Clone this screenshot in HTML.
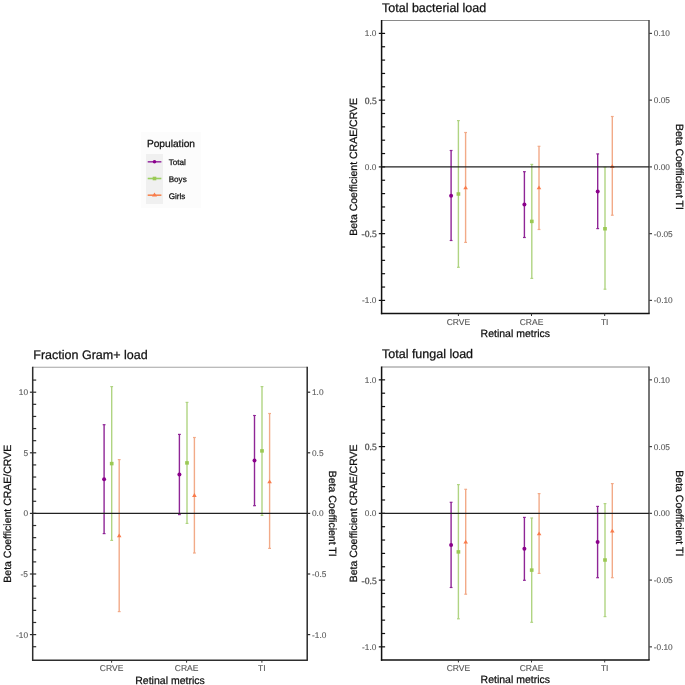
<!DOCTYPE html><html><head><meta charset="utf-8"><style>html,body{margin:0;padding:0;background:#fff;width:685px;height:685px;overflow:hidden}svg{display:block;text-rendering:geometricPrecision;will-change:transform}</style></head><body>
<svg width="685" height="685" viewBox="0 0 685 685">
<rect width="685" height="685" fill="#fff"/>
<text x="382" y="12.3" font-size="12.5" fill="#111" stroke="#111" stroke-width="0.25" text-anchor="start" font-family='"Liberation Sans", sans-serif'>Total bacterial load</text>
<line x1="381.6" y1="20.5" x2="649.0" y2="20.5" stroke="#8a8a8a" stroke-width="1.1"/>
<line x1="381.6" y1="287.05" x2="385.1" y2="287.05" stroke="#111" stroke-width="1.2"/>
<line x1="381.6" y1="273.70000000000005" x2="385.1" y2="273.70000000000005" stroke="#111" stroke-width="1.2"/>
<line x1="381.6" y1="260.35" x2="385.1" y2="260.35" stroke="#111" stroke-width="1.2"/>
<line x1="381.6" y1="247.0" x2="385.1" y2="247.0" stroke="#111" stroke-width="1.2"/>
<line x1="381.6" y1="220.3" x2="385.1" y2="220.3" stroke="#111" stroke-width="1.2"/>
<line x1="381.6" y1="206.95" x2="385.1" y2="206.95" stroke="#111" stroke-width="1.2"/>
<line x1="381.6" y1="193.60000000000002" x2="385.1" y2="193.60000000000002" stroke="#111" stroke-width="1.2"/>
<line x1="381.6" y1="180.25" x2="385.1" y2="180.25" stroke="#111" stroke-width="1.2"/>
<line x1="381.6" y1="153.55" x2="385.1" y2="153.55" stroke="#111" stroke-width="1.2"/>
<line x1="381.6" y1="140.2" x2="385.1" y2="140.2" stroke="#111" stroke-width="1.2"/>
<line x1="381.6" y1="126.85000000000001" x2="385.1" y2="126.85000000000001" stroke="#111" stroke-width="1.2"/>
<line x1="381.6" y1="113.5" x2="385.1" y2="113.5" stroke="#111" stroke-width="1.2"/>
<line x1="381.6" y1="86.80000000000001" x2="385.1" y2="86.80000000000001" stroke="#111" stroke-width="1.2"/>
<line x1="381.6" y1="73.45000000000002" x2="385.1" y2="73.45000000000002" stroke="#111" stroke-width="1.2"/>
<line x1="381.6" y1="60.099999999999994" x2="385.1" y2="60.099999999999994" stroke="#111" stroke-width="1.2"/>
<line x1="381.6" y1="46.75" x2="385.1" y2="46.75" stroke="#111" stroke-width="1.2"/>
<line x1="378.8" y1="33.400000000000006" x2="385.1" y2="33.400000000000006" stroke="#111" stroke-width="1.2"/>
<text x="376.40000000000003" y="36.400000000000006" font-size="8.3" fill="#5a5a5a" stroke="#5a5a5a" stroke-width="0.12" text-anchor="end" font-family='"Liberation Sans", sans-serif'>1.0</text>
<line x1="378.8" y1="100.15" x2="385.1" y2="100.15" stroke="#111" stroke-width="1.2"/>
<text x="376.70000000000005" y="103.55000000000001" font-size="9.6" fill="#555" stroke="#555" stroke-width="0.3" text-anchor="end" font-family='"Liberation Serif", serif'>0.5</text>
<line x1="378.8" y1="166.9" x2="385.1" y2="166.9" stroke="#111" stroke-width="1.2"/>
<text x="376.40000000000003" y="169.9" font-size="8.3" fill="#5a5a5a" stroke="#5a5a5a" stroke-width="0.12" text-anchor="end" font-family='"Liberation Sans", sans-serif'>0.0</text>
<line x1="378.8" y1="233.65" x2="385.1" y2="233.65" stroke="#111" stroke-width="1.2"/>
<text x="376.70000000000005" y="237.05" font-size="9.6" fill="#555" stroke="#555" stroke-width="0.3" text-anchor="end" font-family='"Liberation Serif", serif'>-0.5</text>
<line x1="378.8" y1="300.4" x2="385.1" y2="300.4" stroke="#111" stroke-width="1.2"/>
<text x="376.40000000000003" y="303.4" font-size="8.3" fill="#5a5a5a" stroke="#5a5a5a" stroke-width="0.12" text-anchor="end" font-family='"Liberation Sans", sans-serif'>-1.0</text>
<line x1="649.0" y1="33.400000000000006" x2="652.0" y2="33.400000000000006" stroke="#444" stroke-width="1.2"/>
<text x="653.8" y="36.400000000000006" font-size="8.3" fill="#5a5a5a" stroke="#5a5a5a" stroke-width="0.12" text-anchor="start" font-family='"Liberation Sans", sans-serif'>0.10</text>
<line x1="649.0" y1="100.15" x2="652.0" y2="100.15" stroke="#444" stroke-width="1.2"/>
<text x="653.8" y="103.15" font-size="8.3" fill="#5a5a5a" stroke="#5a5a5a" stroke-width="0.12" text-anchor="start" font-family='"Liberation Sans", sans-serif'>0.05</text>
<line x1="649.0" y1="166.9" x2="652.0" y2="166.9" stroke="#444" stroke-width="1.2"/>
<text x="653.8" y="169.9" font-size="8.3" fill="#5a5a5a" stroke="#5a5a5a" stroke-width="0.12" text-anchor="start" font-family='"Liberation Sans", sans-serif'>0.00</text>
<line x1="649.0" y1="233.65" x2="652.0" y2="233.65" stroke="#444" stroke-width="1.2"/>
<text x="653.8" y="236.65" font-size="8.3" fill="#5a5a5a" stroke="#5a5a5a" stroke-width="0.12" text-anchor="start" font-family='"Liberation Sans", sans-serif'>-0.05</text>
<line x1="649.0" y1="300.4" x2="652.0" y2="300.4" stroke="#444" stroke-width="1.2"/>
<text x="653.8" y="303.4" font-size="8.3" fill="#5a5a5a" stroke="#5a5a5a" stroke-width="0.12" text-anchor="start" font-family='"Liberation Sans", sans-serif'>-0.10</text>
<line x1="381.6" y1="20.0" x2="381.6" y2="314.3" stroke="#111" stroke-width="1.5"/>
<line x1="649.0" y1="20.0" x2="649.0" y2="313.5" stroke="#484848" stroke-width="1.5"/>
<line x1="380.90000000000003" y1="313.5" x2="649.7" y2="313.5" stroke="#111" stroke-width="1.6"/>
<line x1="458.4" y1="313.5" x2="458.4" y2="316.0" stroke="#333" stroke-width="1"/>
<text x="458.4" y="324.5" font-size="8.5" fill="#555" stroke="#555" stroke-width="0.12" text-anchor="middle" font-family='"Liberation Sans", sans-serif'>CRVE</text>
<line x1="531.5" y1="313.5" x2="531.5" y2="316.0" stroke="#333" stroke-width="1"/>
<text x="531.5" y="324.5" font-size="8.5" fill="#555" stroke="#555" stroke-width="0.12" text-anchor="middle" font-family='"Liberation Sans", sans-serif'>CRAE</text>
<line x1="604.7" y1="313.5" x2="604.7" y2="316.0" stroke="#333" stroke-width="1"/>
<text x="604.7" y="324.5" font-size="8.5" fill="#555" stroke="#555" stroke-width="0.12" text-anchor="middle" font-family='"Liberation Sans", sans-serif'>TI</text>
<text x="515.3" y="336.5" font-size="10.5" fill="#111" stroke="#111" stroke-width="0.25" text-anchor="middle" font-family='"Liberation Sans", sans-serif'>Retinal metrics</text>
<text x="357.3" y="166.9" font-size="10.5" fill="#111" stroke="#111" stroke-width="0.25" text-anchor="middle" font-family='"Liberation Sans", sans-serif' transform="rotate(-90 357.3 166.9)">Beta Coefficient CRAE/CRVE</text>
<text x="675.6" y="166.9" font-size="10.5" fill="#111" stroke="#111" stroke-width="0.25" text-anchor="middle" font-family='"Liberation Sans", sans-serif' transform="rotate(90 675.6 166.9)">Beta Coefficient TI</text>
<line x1="451.1" y1="150.5" x2="451.1" y2="240.5" stroke="#8F2596" stroke-width="1.4"/>
<line x1="449.70000000000005" y1="150.5" x2="452.5" y2="150.5" stroke="#8F2596" stroke-width="1.2"/>
<line x1="449.70000000000005" y1="240.5" x2="452.5" y2="240.5" stroke="#8F2596" stroke-width="1.2"/>
<circle cx="451.1" cy="195.7" r="2.0" fill="#8B008B"/>
<line x1="458.4" y1="120.6" x2="458.4" y2="267.3" stroke="#B0D482" stroke-width="1.4"/>
<line x1="457.0" y1="120.6" x2="459.79999999999995" y2="120.6" stroke="#B0D482" stroke-width="1.2"/>
<line x1="457.0" y1="267.3" x2="459.79999999999995" y2="267.3" stroke="#B0D482" stroke-width="1.2"/>
<rect x="456.54999999999995" y="192.25" width="3.7" height="3.5" fill="#9BC954"/>
<line x1="465.6" y1="132.5" x2="465.6" y2="242.4" stroke="#F2AA88" stroke-width="1.4"/>
<line x1="464.20000000000005" y1="132.5" x2="467.0" y2="132.5" stroke="#F2AA88" stroke-width="1.2"/>
<line x1="464.20000000000005" y1="242.4" x2="467.0" y2="242.4" stroke="#F2AA88" stroke-width="1.2"/>
<path d="M465.6 185.4 L467.90000000000003 189.2 L463.3 189.2 Z" fill="#F97B4B"/>
<line x1="524.4" y1="171.7" x2="524.4" y2="237.5" stroke="#8F2596" stroke-width="1.4"/>
<line x1="523.0" y1="171.7" x2="525.8" y2="171.7" stroke="#8F2596" stroke-width="1.2"/>
<line x1="523.0" y1="237.5" x2="525.8" y2="237.5" stroke="#8F2596" stroke-width="1.2"/>
<circle cx="524.4" cy="204.5" r="2.0" fill="#8B008B"/>
<line x1="531.8" y1="164.4" x2="531.8" y2="278.4" stroke="#B0D482" stroke-width="1.4"/>
<line x1="530.4" y1="164.4" x2="533.1999999999999" y2="164.4" stroke="#B0D482" stroke-width="1.2"/>
<line x1="530.4" y1="278.4" x2="533.1999999999999" y2="278.4" stroke="#B0D482" stroke-width="1.2"/>
<rect x="529.9499999999999" y="219.65" width="3.7" height="3.5" fill="#9BC954"/>
<line x1="539.0" y1="146.3" x2="539.0" y2="229.5" stroke="#F2AA88" stroke-width="1.4"/>
<line x1="537.6" y1="146.3" x2="540.4" y2="146.3" stroke="#F2AA88" stroke-width="1.2"/>
<line x1="537.6" y1="229.5" x2="540.4" y2="229.5" stroke="#F2AA88" stroke-width="1.2"/>
<path d="M539.0 185.4 L541.3 189.2 L536.7 189.2 Z" fill="#F97B4B"/>
<line x1="597.7" y1="153.9" x2="597.7" y2="228.6" stroke="#8F2596" stroke-width="1.4"/>
<line x1="596.3000000000001" y1="153.9" x2="599.1" y2="153.9" stroke="#8F2596" stroke-width="1.2"/>
<line x1="596.3000000000001" y1="228.6" x2="599.1" y2="228.6" stroke="#8F2596" stroke-width="1.2"/>
<circle cx="597.7" cy="191.4" r="2.0" fill="#8B008B"/>
<line x1="605.0" y1="167.3" x2="605.0" y2="289.2" stroke="#B0D482" stroke-width="1.4"/>
<line x1="603.6" y1="167.3" x2="606.4" y2="167.3" stroke="#B0D482" stroke-width="1.2"/>
<line x1="603.6" y1="289.2" x2="606.4" y2="289.2" stroke="#B0D482" stroke-width="1.2"/>
<rect x="603.15" y="227.0" width="3.7" height="3.5" fill="#9BC954"/>
<line x1="612.3" y1="116.5" x2="612.3" y2="215.2" stroke="#F2AA88" stroke-width="1.4"/>
<line x1="610.9" y1="116.5" x2="613.6999999999999" y2="116.5" stroke="#F2AA88" stroke-width="1.2"/>
<line x1="610.9" y1="215.2" x2="613.6999999999999" y2="215.2" stroke="#F2AA88" stroke-width="1.2"/>
<path d="M612.3 164.1 L614.5999999999999 167.89999999999998 L610.0 167.89999999999998 Z" fill="#F97B4B"/>
<line x1="381.6" y1="166.9" x2="649.0" y2="166.9" stroke="#222" stroke-width="1.4"/>
<text x="382" y="358.4" font-size="12.5" fill="#111" stroke="#111" stroke-width="0.25" text-anchor="start" font-family='"Liberation Sans", sans-serif'>Total fungal load</text>
<line x1="381.6" y1="366.95" x2="649.0" y2="366.95" stroke="#8a8a8a" stroke-width="1.1"/>
<line x1="381.6" y1="633.5" x2="385.1" y2="633.5" stroke="#111" stroke-width="1.2"/>
<line x1="381.6" y1="620.1500000000001" x2="385.1" y2="620.1500000000001" stroke="#111" stroke-width="1.2"/>
<line x1="381.6" y1="606.8" x2="385.1" y2="606.8" stroke="#111" stroke-width="1.2"/>
<line x1="381.6" y1="593.45" x2="385.1" y2="593.45" stroke="#111" stroke-width="1.2"/>
<line x1="381.6" y1="566.75" x2="385.1" y2="566.75" stroke="#111" stroke-width="1.2"/>
<line x1="381.6" y1="553.4" x2="385.1" y2="553.4" stroke="#111" stroke-width="1.2"/>
<line x1="381.6" y1="540.0500000000001" x2="385.1" y2="540.0500000000001" stroke="#111" stroke-width="1.2"/>
<line x1="381.6" y1="526.7" x2="385.1" y2="526.7" stroke="#111" stroke-width="1.2"/>
<line x1="381.6" y1="500.0" x2="385.1" y2="500.0" stroke="#111" stroke-width="1.2"/>
<line x1="381.6" y1="486.65000000000003" x2="385.1" y2="486.65000000000003" stroke="#111" stroke-width="1.2"/>
<line x1="381.6" y1="473.3" x2="385.1" y2="473.3" stroke="#111" stroke-width="1.2"/>
<line x1="381.6" y1="459.95000000000005" x2="385.1" y2="459.95000000000005" stroke="#111" stroke-width="1.2"/>
<line x1="381.6" y1="433.25" x2="385.1" y2="433.25" stroke="#111" stroke-width="1.2"/>
<line x1="381.6" y1="419.90000000000003" x2="385.1" y2="419.90000000000003" stroke="#111" stroke-width="1.2"/>
<line x1="381.6" y1="406.55" x2="385.1" y2="406.55" stroke="#111" stroke-width="1.2"/>
<line x1="381.6" y1="393.20000000000005" x2="385.1" y2="393.20000000000005" stroke="#111" stroke-width="1.2"/>
<line x1="378.8" y1="379.85" x2="385.1" y2="379.85" stroke="#111" stroke-width="1.2"/>
<text x="376.40000000000003" y="382.85" font-size="8.3" fill="#5a5a5a" stroke="#5a5a5a" stroke-width="0.12" text-anchor="end" font-family='"Liberation Sans", sans-serif'>1.0</text>
<line x1="378.8" y1="446.6" x2="385.1" y2="446.6" stroke="#111" stroke-width="1.2"/>
<text x="376.70000000000005" y="450.0" font-size="9.6" fill="#555" stroke="#555" stroke-width="0.3" text-anchor="end" font-family='"Liberation Serif", serif'>0.5</text>
<line x1="378.8" y1="513.35" x2="385.1" y2="513.35" stroke="#111" stroke-width="1.2"/>
<text x="376.40000000000003" y="516.35" font-size="8.3" fill="#5a5a5a" stroke="#5a5a5a" stroke-width="0.12" text-anchor="end" font-family='"Liberation Sans", sans-serif'>0.0</text>
<line x1="378.8" y1="580.1" x2="385.1" y2="580.1" stroke="#111" stroke-width="1.2"/>
<text x="376.70000000000005" y="583.5" font-size="9.6" fill="#555" stroke="#555" stroke-width="0.3" text-anchor="end" font-family='"Liberation Serif", serif'>-0.5</text>
<line x1="378.8" y1="646.85" x2="385.1" y2="646.85" stroke="#111" stroke-width="1.2"/>
<text x="376.40000000000003" y="649.85" font-size="8.3" fill="#5a5a5a" stroke="#5a5a5a" stroke-width="0.12" text-anchor="end" font-family='"Liberation Sans", sans-serif'>-1.0</text>
<line x1="649.0" y1="379.85" x2="652.0" y2="379.85" stroke="#444" stroke-width="1.2"/>
<text x="653.8" y="382.85" font-size="8.3" fill="#5a5a5a" stroke="#5a5a5a" stroke-width="0.12" text-anchor="start" font-family='"Liberation Sans", sans-serif'>0.10</text>
<line x1="649.0" y1="446.6" x2="652.0" y2="446.6" stroke="#444" stroke-width="1.2"/>
<text x="653.8" y="449.6" font-size="8.3" fill="#5a5a5a" stroke="#5a5a5a" stroke-width="0.12" text-anchor="start" font-family='"Liberation Sans", sans-serif'>0.05</text>
<line x1="649.0" y1="513.35" x2="652.0" y2="513.35" stroke="#444" stroke-width="1.2"/>
<text x="653.8" y="516.35" font-size="8.3" fill="#5a5a5a" stroke="#5a5a5a" stroke-width="0.12" text-anchor="start" font-family='"Liberation Sans", sans-serif'>0.00</text>
<line x1="649.0" y1="580.1" x2="652.0" y2="580.1" stroke="#444" stroke-width="1.2"/>
<text x="653.8" y="583.1" font-size="8.3" fill="#5a5a5a" stroke="#5a5a5a" stroke-width="0.12" text-anchor="start" font-family='"Liberation Sans", sans-serif'>-0.05</text>
<line x1="649.0" y1="646.85" x2="652.0" y2="646.85" stroke="#444" stroke-width="1.2"/>
<text x="653.8" y="649.85" font-size="8.3" fill="#5a5a5a" stroke="#5a5a5a" stroke-width="0.12" text-anchor="start" font-family='"Liberation Sans", sans-serif'>-0.10</text>
<line x1="381.6" y1="366.45" x2="381.6" y2="660.75" stroke="#111" stroke-width="1.5"/>
<line x1="649.0" y1="366.45" x2="649.0" y2="659.95" stroke="#484848" stroke-width="1.5"/>
<line x1="380.90000000000003" y1="659.95" x2="649.7" y2="659.95" stroke="#111" stroke-width="1.6"/>
<line x1="458.4" y1="659.95" x2="458.4" y2="662.45" stroke="#333" stroke-width="1"/>
<text x="458.4" y="670.95" font-size="8.5" fill="#555" stroke="#555" stroke-width="0.12" text-anchor="middle" font-family='"Liberation Sans", sans-serif'>CRVE</text>
<line x1="531.5" y1="659.95" x2="531.5" y2="662.45" stroke="#333" stroke-width="1"/>
<text x="531.5" y="670.95" font-size="8.5" fill="#555" stroke="#555" stroke-width="0.12" text-anchor="middle" font-family='"Liberation Sans", sans-serif'>CRAE</text>
<line x1="604.7" y1="659.95" x2="604.7" y2="662.45" stroke="#333" stroke-width="1"/>
<text x="604.7" y="670.95" font-size="8.5" fill="#555" stroke="#555" stroke-width="0.12" text-anchor="middle" font-family='"Liberation Sans", sans-serif'>TI</text>
<text x="515.3" y="683.35" font-size="10.5" fill="#111" stroke="#111" stroke-width="0.25" text-anchor="middle" font-family='"Liberation Sans", sans-serif'>Retinal metrics</text>
<text x="357.3" y="513.35" font-size="10.5" fill="#111" stroke="#111" stroke-width="0.25" text-anchor="middle" font-family='"Liberation Sans", sans-serif' transform="rotate(-90 357.3 513.35)">Beta Coefficient CRAE/CRVE</text>
<text x="675.6" y="513.35" font-size="10.5" fill="#111" stroke="#111" stroke-width="0.25" text-anchor="middle" font-family='"Liberation Sans", sans-serif' transform="rotate(90 675.6 513.35)">Beta Coefficient TI</text>
<line x1="451.1" y1="502.3" x2="451.1" y2="587.5" stroke="#8F2596" stroke-width="1.4"/>
<line x1="449.70000000000005" y1="502.3" x2="452.5" y2="502.3" stroke="#8F2596" stroke-width="1.2"/>
<line x1="449.70000000000005" y1="587.5" x2="452.5" y2="587.5" stroke="#8F2596" stroke-width="1.2"/>
<circle cx="451.1" cy="545.1" r="2.0" fill="#8B008B"/>
<line x1="458.4" y1="484.6" x2="458.4" y2="618.8" stroke="#B0D482" stroke-width="1.4"/>
<line x1="457.0" y1="484.6" x2="459.79999999999995" y2="484.6" stroke="#B0D482" stroke-width="1.2"/>
<line x1="457.0" y1="618.8" x2="459.79999999999995" y2="618.8" stroke="#B0D482" stroke-width="1.2"/>
<rect x="456.54999999999995" y="550.15" width="3.7" height="3.5" fill="#9BC954"/>
<line x1="465.7" y1="489.3" x2="465.7" y2="594.2" stroke="#F2AA88" stroke-width="1.4"/>
<line x1="464.3" y1="489.3" x2="467.09999999999997" y2="489.3" stroke="#F2AA88" stroke-width="1.2"/>
<line x1="464.3" y1="594.2" x2="467.09999999999997" y2="594.2" stroke="#F2AA88" stroke-width="1.2"/>
<path d="M465.7 539.6999999999999 L468.0 543.5 L463.4 543.5 Z" fill="#F97B4B"/>
<line x1="524.4" y1="517.4" x2="524.4" y2="580.3" stroke="#8F2596" stroke-width="1.4"/>
<line x1="523.0" y1="517.4" x2="525.8" y2="517.4" stroke="#8F2596" stroke-width="1.2"/>
<line x1="523.0" y1="580.3" x2="525.8" y2="580.3" stroke="#8F2596" stroke-width="1.2"/>
<circle cx="524.4" cy="548.8" r="2.0" fill="#8B008B"/>
<line x1="531.7" y1="518.0" x2="531.7" y2="622.3" stroke="#B0D482" stroke-width="1.4"/>
<line x1="530.3000000000001" y1="518.0" x2="533.1" y2="518.0" stroke="#B0D482" stroke-width="1.2"/>
<line x1="530.3000000000001" y1="622.3" x2="533.1" y2="622.3" stroke="#B0D482" stroke-width="1.2"/>
<rect x="529.85" y="568.35" width="3.7" height="3.5" fill="#9BC954"/>
<line x1="539.1" y1="493.6" x2="539.1" y2="573.4" stroke="#F2AA88" stroke-width="1.4"/>
<line x1="537.7" y1="493.6" x2="540.5" y2="493.6" stroke="#F2AA88" stroke-width="1.2"/>
<line x1="537.7" y1="573.4" x2="540.5" y2="573.4" stroke="#F2AA88" stroke-width="1.2"/>
<path d="M539.1 531.5 L541.4 535.3000000000001 L536.8000000000001 535.3000000000001 Z" fill="#F97B4B"/>
<line x1="597.6" y1="506.4" x2="597.6" y2="577.7" stroke="#8F2596" stroke-width="1.4"/>
<line x1="596.2" y1="506.4" x2="599.0" y2="506.4" stroke="#8F2596" stroke-width="1.2"/>
<line x1="596.2" y1="577.7" x2="599.0" y2="577.7" stroke="#8F2596" stroke-width="1.2"/>
<circle cx="597.6" cy="542.1" r="2.0" fill="#8B008B"/>
<line x1="605.0" y1="503.6" x2="605.0" y2="616.6" stroke="#B0D482" stroke-width="1.4"/>
<line x1="603.6" y1="503.6" x2="606.4" y2="503.6" stroke="#B0D482" stroke-width="1.2"/>
<line x1="603.6" y1="616.6" x2="606.4" y2="616.6" stroke="#B0D482" stroke-width="1.2"/>
<rect x="603.15" y="558.25" width="3.7" height="3.5" fill="#9BC954"/>
<line x1="612.3" y1="483.6" x2="612.3" y2="577.7" stroke="#F2AA88" stroke-width="1.4"/>
<line x1="610.9" y1="483.6" x2="613.6999999999999" y2="483.6" stroke="#F2AA88" stroke-width="1.2"/>
<line x1="610.9" y1="577.7" x2="613.6999999999999" y2="577.7" stroke="#F2AA88" stroke-width="1.2"/>
<path d="M612.3 528.8 L614.5999999999999 532.6 L610.0 532.6 Z" fill="#F97B4B"/>
<line x1="381.6" y1="513.35" x2="649.0" y2="513.35" stroke="#222" stroke-width="1.4"/>
<text x="33.3" y="358.7" font-size="12.5" fill="#111" stroke="#111" stroke-width="0.25" text-anchor="start" font-family='"Liberation Sans", sans-serif'>Fraction Gram+ load</text>
<line x1="32.7" y1="367.3" x2="307.2" y2="367.3" stroke="#a5a5a5" stroke-width="1.1"/>
<line x1="32.7" y1="646.72" x2="36.2" y2="646.72" stroke="#2e2e2e" stroke-width="1.2"/>
<line x1="32.7" y1="622.48" x2="36.2" y2="622.48" stroke="#2e2e2e" stroke-width="1.2"/>
<line x1="32.7" y1="610.36" x2="36.2" y2="610.36" stroke="#2e2e2e" stroke-width="1.2"/>
<line x1="32.7" y1="598.24" x2="36.2" y2="598.24" stroke="#2e2e2e" stroke-width="1.2"/>
<line x1="32.7" y1="586.12" x2="36.2" y2="586.12" stroke="#2e2e2e" stroke-width="1.2"/>
<line x1="32.7" y1="561.88" x2="36.2" y2="561.88" stroke="#2e2e2e" stroke-width="1.2"/>
<line x1="32.7" y1="549.76" x2="36.2" y2="549.76" stroke="#2e2e2e" stroke-width="1.2"/>
<line x1="32.7" y1="537.64" x2="36.2" y2="537.64" stroke="#2e2e2e" stroke-width="1.2"/>
<line x1="32.7" y1="525.52" x2="36.2" y2="525.52" stroke="#2e2e2e" stroke-width="1.2"/>
<line x1="32.7" y1="501.28" x2="36.2" y2="501.28" stroke="#2e2e2e" stroke-width="1.2"/>
<line x1="32.7" y1="489.15999999999997" x2="36.2" y2="489.15999999999997" stroke="#2e2e2e" stroke-width="1.2"/>
<line x1="32.7" y1="477.03999999999996" x2="36.2" y2="477.03999999999996" stroke="#2e2e2e" stroke-width="1.2"/>
<line x1="32.7" y1="464.91999999999996" x2="36.2" y2="464.91999999999996" stroke="#2e2e2e" stroke-width="1.2"/>
<line x1="32.7" y1="440.67999999999995" x2="36.2" y2="440.67999999999995" stroke="#2e2e2e" stroke-width="1.2"/>
<line x1="32.7" y1="428.56" x2="36.2" y2="428.56" stroke="#2e2e2e" stroke-width="1.2"/>
<line x1="32.7" y1="416.44" x2="36.2" y2="416.44" stroke="#2e2e2e" stroke-width="1.2"/>
<line x1="32.7" y1="404.32" x2="36.2" y2="404.32" stroke="#2e2e2e" stroke-width="1.2"/>
<line x1="32.7" y1="380.08" x2="36.2" y2="380.08" stroke="#2e2e2e" stroke-width="1.2"/>
<line x1="29.900000000000002" y1="392.2" x2="36.2" y2="392.2" stroke="#2e2e2e" stroke-width="1.2"/>
<text x="28.000000000000004" y="395.2" font-size="8.3" fill="#5a5a5a" stroke="#5a5a5a" stroke-width="0.12" text-anchor="end" font-family='"Liberation Sans", sans-serif'>10</text>
<line x1="29.900000000000002" y1="452.79999999999995" x2="36.2" y2="452.79999999999995" stroke="#2e2e2e" stroke-width="1.2"/>
<text x="28.000000000000004" y="455.79999999999995" font-size="8.3" fill="#5a5a5a" stroke="#5a5a5a" stroke-width="0.12" text-anchor="end" font-family='"Liberation Sans", sans-serif'>5</text>
<line x1="29.900000000000002" y1="513.4" x2="36.2" y2="513.4" stroke="#2e2e2e" stroke-width="1.2"/>
<text x="28.000000000000004" y="516.4" font-size="8.3" fill="#5a5a5a" stroke="#5a5a5a" stroke-width="0.12" text-anchor="end" font-family='"Liberation Sans", sans-serif'>0</text>
<line x1="29.900000000000002" y1="574.0" x2="36.2" y2="574.0" stroke="#2e2e2e" stroke-width="1.2"/>
<text x="28.000000000000004" y="577.0" font-size="8.3" fill="#5a5a5a" stroke="#5a5a5a" stroke-width="0.12" text-anchor="end" font-family='"Liberation Sans", sans-serif'>-5</text>
<line x1="29.900000000000002" y1="634.5999999999999" x2="36.2" y2="634.5999999999999" stroke="#2e2e2e" stroke-width="1.2"/>
<text x="28.000000000000004" y="637.5999999999999" font-size="8.3" fill="#5a5a5a" stroke="#5a5a5a" stroke-width="0.12" text-anchor="end" font-family='"Liberation Sans", sans-serif'>-10</text>
<line x1="307.2" y1="392.2" x2="310.2" y2="392.2" stroke="#2a2a2a" stroke-width="1.2"/>
<text x="312.0" y="395.2" font-size="8.3" fill="#5a5a5a" stroke="#5a5a5a" stroke-width="0.12" text-anchor="start" font-family='"Liberation Sans", sans-serif'>1.0</text>
<line x1="307.2" y1="452.79999999999995" x2="310.2" y2="452.79999999999995" stroke="#2a2a2a" stroke-width="1.2"/>
<text x="312.0" y="455.79999999999995" font-size="8.3" fill="#5a5a5a" stroke="#5a5a5a" stroke-width="0.12" text-anchor="start" font-family='"Liberation Sans", sans-serif'>0.5</text>
<line x1="307.2" y1="513.4" x2="310.2" y2="513.4" stroke="#2a2a2a" stroke-width="1.2"/>
<text x="312.0" y="516.4" font-size="8.3" fill="#5a5a5a" stroke="#5a5a5a" stroke-width="0.12" text-anchor="start" font-family='"Liberation Sans", sans-serif'>0.0</text>
<line x1="307.2" y1="574.0" x2="310.2" y2="574.0" stroke="#2a2a2a" stroke-width="1.2"/>
<text x="312.0" y="577.0" font-size="8.3" fill="#5a5a5a" stroke="#5a5a5a" stroke-width="0.12" text-anchor="start" font-family='"Liberation Sans", sans-serif'>-0.5</text>
<line x1="307.2" y1="634.5999999999999" x2="310.2" y2="634.5999999999999" stroke="#2a2a2a" stroke-width="1.2"/>
<text x="312.0" y="637.5999999999999" font-size="8.3" fill="#5a5a5a" stroke="#5a5a5a" stroke-width="0.12" text-anchor="start" font-family='"Liberation Sans", sans-serif'>-1.0</text>
<line x1="32.7" y1="366.8" x2="32.7" y2="661.0" stroke="#2e2e2e" stroke-width="1.5"/>
<line x1="307.2" y1="366.8" x2="307.2" y2="660.2" stroke="#2a2a2a" stroke-width="1.5"/>
<line x1="32.0" y1="660.2" x2="307.9" y2="660.2" stroke="#2e2e2e" stroke-width="1.6"/>
<line x1="111.6" y1="660.2" x2="111.6" y2="662.7" stroke="#333" stroke-width="1"/>
<text x="111.6" y="671.2" font-size="8.5" fill="#555" stroke="#555" stroke-width="0.12" text-anchor="middle" font-family='"Liberation Sans", sans-serif'>CRVE</text>
<line x1="186.6" y1="660.2" x2="186.6" y2="662.7" stroke="#333" stroke-width="1"/>
<text x="186.6" y="671.2" font-size="8.5" fill="#555" stroke="#555" stroke-width="0.12" text-anchor="middle" font-family='"Liberation Sans", sans-serif'>CRAE</text>
<line x1="261.9" y1="660.2" x2="261.9" y2="662.7" stroke="#333" stroke-width="1"/>
<text x="261.9" y="671.2" font-size="8.5" fill="#555" stroke="#555" stroke-width="0.12" text-anchor="middle" font-family='"Liberation Sans", sans-serif'>TI</text>
<text x="170" y="683.6" font-size="10.5" fill="#111" stroke="#111" stroke-width="0.25" text-anchor="middle" font-family='"Liberation Sans", sans-serif'>Retinal metrics</text>
<text x="11.3" y="513.7" font-size="10.5" fill="#111" stroke="#111" stroke-width="0.25" text-anchor="middle" font-family='"Liberation Sans", sans-serif' transform="rotate(-90 11.3 513.7)">Beta Coefficient CRAE/CRVE</text>
<text x="328.6" y="513.7" font-size="10.5" fill="#111" stroke="#111" stroke-width="0.25" text-anchor="middle" font-family='"Liberation Sans", sans-serif' transform="rotate(90 328.6 513.7)">Beta Coefficient TI</text>
<line x1="104.1" y1="424.7" x2="104.1" y2="533.6" stroke="#8F2596" stroke-width="1.4"/>
<line x1="102.69999999999999" y1="424.7" x2="105.5" y2="424.7" stroke="#8F2596" stroke-width="1.2"/>
<line x1="102.69999999999999" y1="533.6" x2="105.5" y2="533.6" stroke="#8F2596" stroke-width="1.2"/>
<circle cx="104.1" cy="479.3" r="2.0" fill="#8B008B"/>
<line x1="111.7" y1="386.6" x2="111.7" y2="540.4" stroke="#B0D482" stroke-width="1.4"/>
<line x1="110.3" y1="386.6" x2="113.10000000000001" y2="386.6" stroke="#B0D482" stroke-width="1.2"/>
<line x1="110.3" y1="540.4" x2="113.10000000000001" y2="540.4" stroke="#B0D482" stroke-width="1.2"/>
<rect x="109.85000000000001" y="461.85" width="3.7" height="3.5" fill="#9BC954"/>
<line x1="119.2" y1="459.6" x2="119.2" y2="611.6" stroke="#F2AA88" stroke-width="1.4"/>
<line x1="117.8" y1="459.6" x2="120.60000000000001" y2="459.6" stroke="#F2AA88" stroke-width="1.2"/>
<line x1="117.8" y1="611.6" x2="120.60000000000001" y2="611.6" stroke="#F2AA88" stroke-width="1.2"/>
<path d="M119.2 533.4 L121.5 537.2 L116.9 537.2 Z" fill="#F97B4B"/>
<line x1="179.4" y1="434.4" x2="179.4" y2="514.6" stroke="#8F2596" stroke-width="1.4"/>
<line x1="178.0" y1="434.4" x2="180.8" y2="434.4" stroke="#8F2596" stroke-width="1.2"/>
<line x1="178.0" y1="514.6" x2="180.8" y2="514.6" stroke="#8F2596" stroke-width="1.2"/>
<circle cx="179.4" cy="474.4" r="2.0" fill="#8B008B"/>
<line x1="187.0" y1="402.4" x2="187.0" y2="523.4" stroke="#B0D482" stroke-width="1.4"/>
<line x1="185.6" y1="402.4" x2="188.4" y2="402.4" stroke="#B0D482" stroke-width="1.2"/>
<line x1="185.6" y1="523.4" x2="188.4" y2="523.4" stroke="#B0D482" stroke-width="1.2"/>
<rect x="185.15" y="461.15" width="3.7" height="3.5" fill="#9BC954"/>
<line x1="194.4" y1="437.5" x2="194.4" y2="553.0" stroke="#F2AA88" stroke-width="1.4"/>
<line x1="193.0" y1="437.5" x2="195.8" y2="437.5" stroke="#F2AA88" stroke-width="1.2"/>
<line x1="193.0" y1="553.0" x2="195.8" y2="553.0" stroke="#F2AA88" stroke-width="1.2"/>
<path d="M194.4 493.09999999999997 L196.70000000000002 496.9 L192.1 496.9 Z" fill="#F97B4B"/>
<line x1="254.5" y1="415.5" x2="254.5" y2="505.7" stroke="#8F2596" stroke-width="1.4"/>
<line x1="253.1" y1="415.5" x2="255.9" y2="415.5" stroke="#8F2596" stroke-width="1.2"/>
<line x1="253.1" y1="505.7" x2="255.9" y2="505.7" stroke="#8F2596" stroke-width="1.2"/>
<circle cx="254.5" cy="460.6" r="2.0" fill="#8B008B"/>
<line x1="262.0" y1="386.6" x2="262.0" y2="515.4" stroke="#B0D482" stroke-width="1.4"/>
<line x1="260.6" y1="386.6" x2="263.4" y2="386.6" stroke="#B0D482" stroke-width="1.2"/>
<line x1="260.6" y1="515.4" x2="263.4" y2="515.4" stroke="#B0D482" stroke-width="1.2"/>
<rect x="260.15" y="449.15" width="3.7" height="3.5" fill="#9BC954"/>
<line x1="269.6" y1="413.5" x2="269.6" y2="548.4" stroke="#F2AA88" stroke-width="1.4"/>
<line x1="268.20000000000005" y1="413.5" x2="271.0" y2="413.5" stroke="#F2AA88" stroke-width="1.2"/>
<line x1="268.20000000000005" y1="548.4" x2="271.0" y2="548.4" stroke="#F2AA88" stroke-width="1.2"/>
<path d="M269.6 479.4 L271.90000000000003 483.2 L267.3 483.2 Z" fill="#F97B4B"/>
<line x1="32.7" y1="513.4" x2="307.2" y2="513.4" stroke="#222" stroke-width="1.4"/>
<rect x="141" y="132" width="60" height="76" fill="#fcfcfc"/>
<rect x="146" y="154" width="17" height="50" fill="#f0f0f0"/>
<text x="146.9" y="147.3" font-size="10.2" fill="#111" stroke="#111" stroke-width="0.25" text-anchor="start" font-family='"Liberation Sans", sans-serif'>Population</text>
<line x1="147.7" y1="161.8" x2="161.4" y2="161.8" stroke="#9B3AA5" stroke-width="1.6"/>
<circle cx="154.5" cy="161.8" r="1.8" fill="#8B008B"/>
<text x="168.7" y="165.10000000000002" font-size="8.1" fill="#111" stroke="#111" stroke-width="0.25" text-anchor="start" font-family='"Liberation Sans", sans-serif'>Total</text>
<line x1="147.7" y1="178.5" x2="161.4" y2="178.5" stroke="#98CF5E" stroke-width="1.6"/>
<rect x="152.7" y="176.7" width="3.6" height="3.6" fill="#9BC954"/>
<text x="168.7" y="181.8" font-size="8.1" fill="#111" stroke="#111" stroke-width="0.25" text-anchor="start" font-family='"Liberation Sans", sans-serif'>Boys</text>
<line x1="147.7" y1="195.20000000000002" x2="161.4" y2="195.20000000000002" stroke="#F58652" stroke-width="1.6"/>
<path d="M154.5 192.4 L157 196.60000000000002 L152 196.60000000000002 Z" fill="#F97B4B"/>
<text x="168.7" y="198.50000000000003" font-size="8.1" fill="#111" stroke="#111" stroke-width="0.25" text-anchor="start" font-family='"Liberation Sans", sans-serif'>Girls</text>
</svg></body></html>
